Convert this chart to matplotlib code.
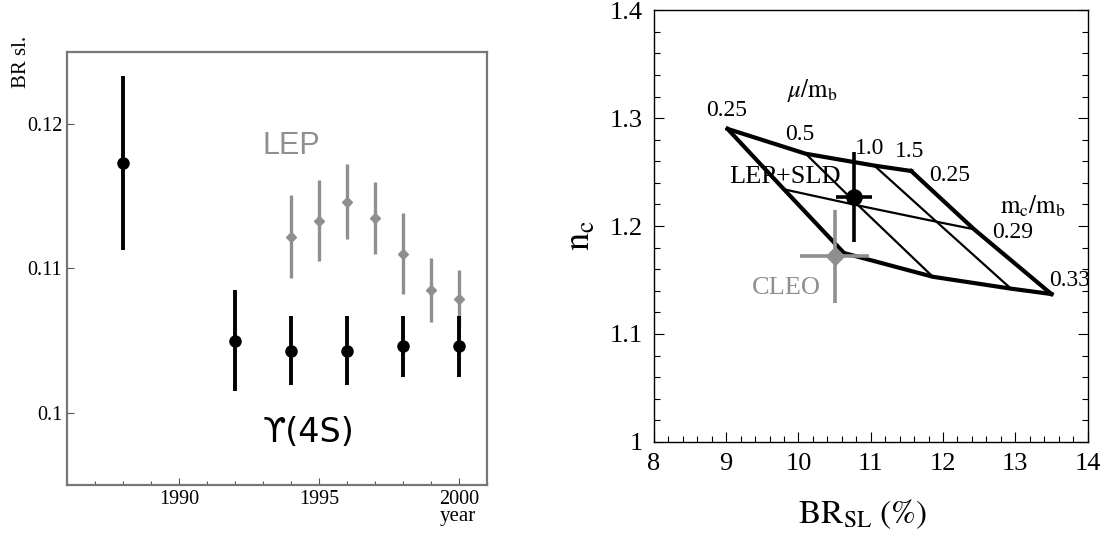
import matplotlib.pyplot as plt
from matplotlib.ticker import MultipleLocator

plt.rcParams['mathtext.fontset'] = 'stix'

# left panel: semileptonic BR vs year
y4s_year = [1988, 1992, 1994, 1996, 1998, 2000]
y4s_br = [0.1173, 0.1050, 0.1043, 0.1043, 0.1046, 0.1046]
y4s_err = [0.0060, 0.0035, 0.0024, 0.0024, 0.0021, 0.0021]

lep_year = [1994, 1995, 1996, 1997, 1998, 1999, 2000]
lep_br = [0.1122, 0.1133, 0.1146, 0.1135, 0.1110, 0.1085, 0.1079]
lep_err = [0.0029, 0.0028, 0.0026, 0.0025, 0.0028, 0.0022, 0.0020]

# right panel: theory grid (rows: m_c/m_b, columns: mu/m_b)
mu_vals = ['0.25', '0.5', '1.0', '1.5']
mc_vals = ['0.25', '0.29', '0.33']
grid_br = [[9.02, 10.10, 11.05, 11.56],
           [9.80, 10.83, 11.91, 12.43],
           [10.63, 11.86, 12.94, 13.50]]
grid_nc = [[1.290, 1.267, 1.256, 1.251],
           [1.234, 1.219, 1.204, 1.197],
           [1.175, 1.153, 1.142, 1.137]]

lepsld = dict(br=10.77, nc=1.227, ebr=0.25, enc=0.042)
cleo = dict(br=10.50, nc=1.172, ebr=0.48, enc=0.043)

GRAY = '#8f8f8f'
SERIF = 'Liberation Serif'

fig = plt.figure(figsize=(11.12, 5.35), dpi=100)

# ---------------- left
ax1 = fig.add_axes([0.0603, 0.0935, 0.378, 0.81])
ax1.errorbar(lep_year, lep_br, yerr=lep_err, fmt='D', color=GRAY, ms=5,
             elinewidth=2.4, capsize=0, zorder=2)
ax1.errorbar(y4s_year, y4s_br, yerr=y4s_err, fmt='o', color='black', ms=8,
             elinewidth=2.8, capsize=0, zorder=3)
ax1.set_xlim(1986, 2001)
ax1.set_ylim(0.095, 0.125)
ax1.set_xticks([1990, 1995, 2000])
ax1.xaxis.set_minor_locator(MultipleLocator(1))
ax1.set_yticks([0.1, 0.11, 0.12])
ax1.set_yticklabels(['0.1', '0.11', '0.12'])
ax1.tick_params(direction='in', length=5, width=0.8, labelsize=14.5, color='#555')
ax1.tick_params(which='minor', direction='in', length=3, width=0.8, color='#555')
for lab in ax1.get_xticklabels() + ax1.get_yticklabels():
    lab.set_family(SERIF)
for sp in ax1.spines.values():
    sp.set_color('#777')
    sp.set_linewidth(1.6)
ax1.text(1994.0, 0.1185, 'LEP', color=GRAY, fontsize=22, ha='center', va='center',
         family=['Liberation Sans', 'DejaVu Sans'])
ax1.text(1994.6, 0.0986, '\u03d2(4S)', color='black', fontsize=24, ha='center',
         va='center', family=['DejaVu Sans'])
fig.text(21 / 1112, 1 - 62 / 535, 'BR sl.', rotation=90, ha='center', va='center',
         fontsize=15, family=SERIF)
fig.text(458 / 1112, 1 - 517 / 535, 'year', ha='center', va='center',
         fontsize=15, family=SERIF)

# ---------------- right
ax2 = fig.add_axes([0.588, 0.174, 0.390, 0.807])
for i, row_br in enumerate(grid_br):
    edge = i in (0, len(grid_br) - 1)
    ax2.plot(row_br, grid_nc[i], color='black', lw=3.0 if edge else 1.6,
             solid_joinstyle='round', zorder=2)
for j in range(len(mu_vals)):
    col_br = [r[j] for r in grid_br]
    col_nc = [r[j] for r in grid_nc]
    edge = j in (0, len(mu_vals) - 1)
    ax2.plot(col_br, col_nc, color='black', lw=3.0 if edge else 1.6,
             solid_joinstyle='round', zorder=2)

ax2.errorbar(cleo['br'], cleo['nc'], xerr=cleo['ebr'], yerr=cleo['enc'], fmt='D',
             color=GRAY, ms=9, elinewidth=2.6, capsize=0, zorder=3)
ax2.errorbar(lepsld['br'], lepsld['nc'], xerr=lepsld['ebr'], yerr=lepsld['enc'],
             fmt='o', color='black', ms=11, elinewidth=2.6, capsize=0, zorder=4)

tfont = dict(family=SERIF, fontsize=17, ha='center', va='center')
ax2.text(9.0, 1.307, mu_vals[0], **tfont)
ax2.text(10.02, 1.285, mu_vals[1], **tfont)
ax2.text(10.99, 1.272, mu_vals[2], **tfont)
ax2.text(11.54, 1.269, mu_vals[3], **tfont)
ax2.text(10.2, 1.326, r'$\mu/\mathrm{m_b}$', fontsize=18, ha='center', va='center')
ax2.text(12.09, 1.247, mc_vals[0], **tfont)
ax2.text(12.97, 1.194, mc_vals[1], **tfont)
ax2.text(13.75, 1.150, mc_vals[2], **tfont)
ax2.text(13.25, 1.218, r'$\mathrm{m_c/m_b}$', fontsize=18, ha='center', va='center')
ax2.text(9.82, 1.2454, 'LEP+SLD', family=SERIF, fontsize=19, ha='center',
         va='center', zorder=1)
ax2.text(9.84, 1.1426, 'CLEO', family=SERIF, fontsize=19, ha='center',
         va='center', color=GRAY)

ax2.set_xlim(8, 14)
ax2.set_ylim(1.0, 1.4)
ax2.set_xticks(range(8, 15))
ax2.set_yticks([1.0, 1.1, 1.2, 1.3, 1.4])
ax2.set_yticklabels(['1', '1.1', '1.2', '1.3', '1.4'])
ax2.xaxis.set_minor_locator(MultipleLocator(0.2))
ax2.yaxis.set_minor_locator(MultipleLocator(0.02))
ax2.tick_params(direction='in', length=7, width=0.8, labelsize=19, right=True,
                pad=8)
ax2.tick_params(which='minor', direction='in', length=4, width=0.8, right=True)
for lab in ax2.get_xticklabels() + ax2.get_yticklabels():
    lab.set_family(SERIF)
for sp in ax2.spines.values():
    sp.set_linewidth(1.0)

fig.text(580 / 1112, 1 - 235 / 535, r'$\mathrm{n_c}$', rotation=90, ha='center',
         va='center', fontsize=26)
fig.text(863 / 1112, 1 - 514 / 535, r'$\mathrm{BR_{SL}\ (\%)}$', ha='center',
         va='center', fontsize=24)

fig.savefig('out.png', dpi=100)
